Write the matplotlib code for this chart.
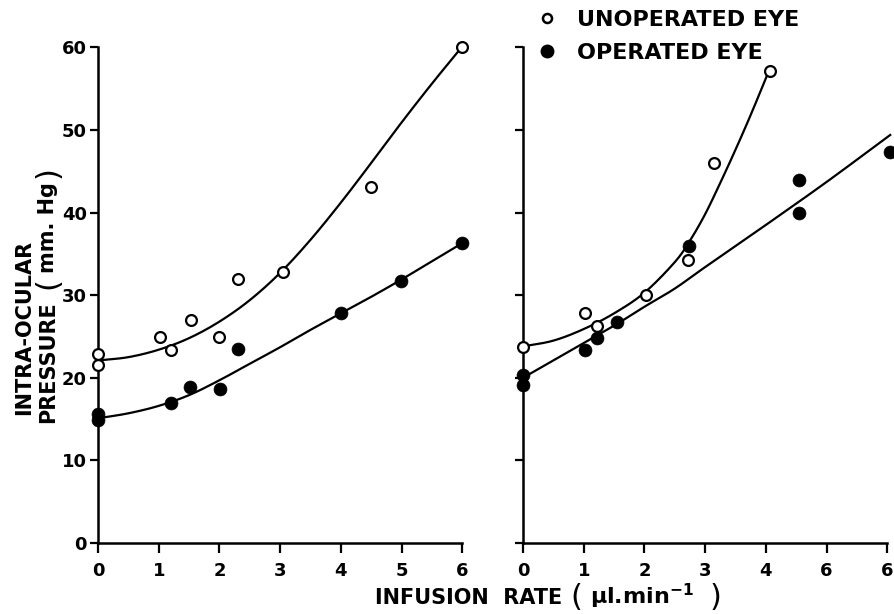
import numpy as np
import matplotlib
matplotlib.use("Agg")
import matplotlib.pyplot as plt

plt.rcParams["font.family"] = "DejaVu Sans"
plt.rcParams["mathtext.fontset"] = "dejavusans"
plt.rcParams["mathtext.default"] = "bf"

# ---- left panel: measured points ----
left_open_x = [0.0, 0.0, 1.02, 1.21, 1.53, 2.0, 2.30, 3.04, 4.50, 6.0]
left_open_y = [22.9, 21.5, 25.0, 23.4, 27.0, 25.0, 32.0, 32.8, 43.1, 60.0]
left_fill_x = [0.0, 0.0, 1.20, 1.52, 2.01, 2.30, 4.0, 4.99, 6.0]
left_fill_y = [15.6, 14.9, 17.0, 18.9, 18.6, 23.5, 27.8, 31.7, 36.3]

# hand-fitted curves, left panel
left_curve_x = [0, 0.5, 1, 1.5, 2, 2.5, 3, 3.5, 4, 4.5, 5, 5.5, 6]
left_open_curve = [22.1, 22.5, 23.4, 24.8, 26.8, 29.4, 32.7, 36.7, 41.2, 46.0, 50.9, 55.6, 60.1]
left_fill_curve = [15.1, 15.7, 16.6, 17.9, 19.7, 21.7, 23.7, 25.8, 27.8, 29.8, 31.9, 34.1, 36.3]

# ---- right panel: measured points ----
right_open_x = [0.0, 1.02, 1.22, 2.03, 2.72, 3.14, 4.07]
right_open_y = [23.7, 27.9, 26.3, 30.0, 34.3, 46.0, 57.1]
right_fill_x = [0.0, 0.0, 1.02, 1.22, 1.55, 2.73, 4.55, 4.55, 6.05]
right_fill_y = [20.3, 19.1, 23.4, 24.8, 26.8, 36.0, 43.9, 39.9, 47.3]

# hand-fitted curves, right panel
right_open_curve_x = [0, 0.5, 1, 1.5, 2, 2.5, 2.75, 3, 3.25, 3.5, 3.75, 4.02]
right_open_curve_y = [23.8, 24.5, 25.9, 27.8, 30.3, 34.0, 36.6, 39.8, 43.6, 47.6, 51.8, 56.6]
right_fill_curve_x = [0, 0.5, 1, 1.5, 2, 2.5, 3, 4, 5, 6.05]
right_fill_curve_y = [20.0, 22.1, 24.2, 26.3, 28.6, 30.8, 33.4, 38.5, 43.7, 49.4]

left_xticklabels = ["0", "1", "2", "3", "4", "5", "6"]
right_xticklabels = ["0", "1", "2", "3", "4", "6", "6"]
yticks = [0, 10, 20, 30, 40, 50, 60]

W, H = 894, 614
fig = plt.figure(figsize=(W / 100, H / 100), dpi=100)

px_x = 60.7   # pixels per unit of infusion rate
px_y = 8.26   # pixels per mm Hg
y0 = 543      # pixel row of zero pressure


def smooth(xs, ys, n=20):
    # Catmull-Rom pass through the traced points so the curve draws without kinks
    p = np.column_stack([xs, ys]).astype(float)
    p = np.vstack([2 * p[0] - p[1], p, 2 * p[-1] - p[-2]])
    out = []
    t = np.linspace(0, 1, n, endpoint=False)[:, None]
    for i in range(1, len(p) - 2):
        p0, p1, p2, p3 = p[i - 1], p[i], p[i + 1], p[i + 2]
        seg = 0.5 * ((2 * p1) + (-p0 + p2) * t
                     + (2 * p0 - 5 * p1 + 4 * p2 - p3) * t ** 2
                     + (-p0 + 3 * p1 - 3 * p2 + p3) * t ** 3)
        out.append(seg)
    out.append(p[-2][None, :])
    out = np.vstack(out)
    return out[:, 0], out[:, 1]


def make_axes(left_px, xmax):
    ax = fig.add_axes([left_px / W, (H - y0) / H, xmax * px_x / W, 62 * px_y / H])
    ax.set_xlim(0, xmax)
    ax.set_ylim(0, 62)
    for s in ["top", "right"]:
        ax.spines[s].set_visible(False)
    ax.spines["left"].set_bounds(0, 60)
    ax.spines["bottom"].set_bounds(0, 6)
    for s in ["left", "bottom"]:
        ax.spines[s].set_linewidth(1.8)
    ax.set_xticks(range(7))
    ax.set_yticks(yticks)
    ax.tick_params(axis="x", direction="out", length=7, width=1.6, pad=7,
                   labelsize=13)
    ax.tick_params(axis="y", direction="out", length=6, width=1.6, pad=2,
                   labelsize=13)
    for lab in ax.get_xticklabels() + ax.get_yticklabels():
        lab.set_fontweight("bold")
    ax.patch.set_alpha(0)
    return ax


def draw(ax, ox, oy, fx, fy, cox, coy, cfx, cfy):
    ax.plot(*smooth(cox, coy), color="black", lw=1.6, zorder=2, clip_on=False)
    ax.plot(*smooth(cfx, cfy), color="black", lw=1.6, zorder=2, clip_on=False)
    ax.plot(fx, fy, "o", ms=9.3, mfc="black", mec="black", mew=0.5,
            zorder=3, clip_on=False)
    ax.plot(ox, oy, "o", ms=7.8, mfc="white", mec="black", mew=1.6,
            zorder=4, clip_on=False)


ax1 = make_axes(98, 6.2)
draw(ax1, left_open_x, left_open_y, left_fill_x, left_fill_y,
     left_curve_x, left_open_curve, left_curve_x, left_fill_curve)
ax1.set_xticklabels(left_xticklabels)
ax1.set_yticklabels([str(t) for t in yticks])

ax2 = make_axes(523, 6.12)
draw(ax2, right_open_x, right_open_y, right_fill_x, right_fill_y,
     right_open_curve_x, right_open_curve_y, right_fill_curve_x, right_fill_curve_y)
ax2.set_xticklabels(right_xticklabels)
ax2.set_yticklabels([])

# legend
ax2.plot([547 / W], [1 - 18 / H], "o", ms=6.5, mfc="white", mec="black", mew=1.8,
         transform=fig.transFigure, clip_on=False)
ax2.plot([547 / W], [1 - 51 / H], "o", ms=9, mfc="black", mec="black",
         transform=fig.transFigure, clip_on=False)
fig.text(577 / W, 1 - 26 / H, "UNOPERATED EYE", fontsize=16, fontweight="bold",
         ha="left", va="baseline")
fig.text(577 / W, 1 - 59 / H, "OPERATED EYE", fontsize=16, fontweight="bold",
         ha="left", va="baseline")

# x axis title
fig.text(562 / W, 1 - 604 / H, "INFUSION  RATE", fontsize=15, fontweight="bold",
         ha="right", va="baseline")
fig.text(576 / W, 1 - 597 / H, "(", fontsize=22, ha="center", va="center")
fig.text(642 / W, 1 - 604 / H, "μl.min$^{-1}$", fontsize=16, fontweight="bold",
         ha="center", va="baseline")
fig.text(716 / W, 1 - 597 / H, ")", fontsize=22, ha="center", va="center")

# y axis title
fig.text(24 / W, 1 - 327 / H, "INTRA-OCULAR", fontsize=15, fontweight="bold",
         rotation=90, ha="center", va="center")
fig.text(48 / W, 1 - 362 / H, "PRESSURE", fontsize=15, fontweight="bold",
         rotation=90, ha="center", va="center")
fig.text(48 / W, 1 - 283 / H, "(", fontsize=22, rotation=90, ha="center", va="center")
fig.text(48 / W, 1 - 228 / H, "mm. Hg", fontsize=15, fontweight="bold",
         rotation=90, ha="center", va="center")
fig.text(48 / W, 1 - 172 / H, ")", fontsize=22, rotation=90, ha="center", va="center")

fig.savefig("out.png", dpi=100)
